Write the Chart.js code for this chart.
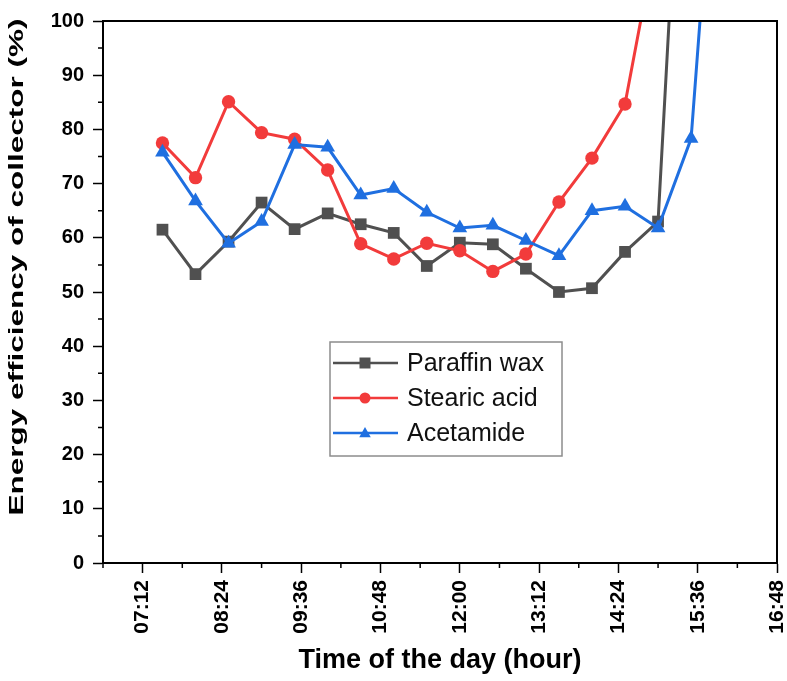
<!DOCTYPE html>
<html>
<head>
<meta charset="utf-8">
<script src="https://cdn.jsdelivr.net/npm/chart.js@4.4.0/dist/chart.umd.min.js"></script>
<style>
    html, body { margin: 0; padding: 0; background: #fff; }
    #wrap { width: 787px; height: 681px; }
</style>
</head>
<body>
<div id="wrap"><canvas id="eff_chart" width="787" height="681"></canvas></div>
<script>
// readings, every 30 min from 07:30
var times = ['07:30','08:00','08:30','09:00','09:30','10:00','10:30','11:00','11:30',
             '12:00','12:30','13:00','13:30','14:00','14:30','15:00','15:30','16:00'];
var paraffin  = [61.5, 53.3, 59.3, 66.5, 61.6, 64.5, 62.5, 60.9, 54.8, 59.1, 58.8, 54.3, 50.0, 50.7, 57.4, 63.0, 174];
var stearic   = [77.5, 71.1, 85.1, 79.4, 78.2, 72.5, 58.9, 56.1, 59.0, 57.6, 53.8, 57.0, 66.6, 74.7, 84.7, 117];
var acetamide = [75.8, 66.8, 59.0, 63.0, 77.2, 76.7, 67.9, 69.1, 64.7, 61.8, 62.3, 59.5, 56.7, 65.0, 65.8, 61.8, 78.3, 159];
var series_names  = ['Paraffin wax', 'Stearic acid', 'Acetamide'];
var series_colors = ['#505050', '#f23b3b', '#1f6fe0'];
var series_marks  = ['rect', 'circle', 'triangle'];
var x_tick_labels = ['07:12','08:24','09:36','10:48','12:00','13:12','14:24','15:36','16:48'];

var FONT = '"Liberation Sans", Arial, sans-serif';

function toMin(s){
    var p = s.split(':');
    return parseInt(p[0], 10) * 60 + parseInt(p[1], 10);
}
function fmt(m){
    var h = Math.floor(m / 60), mm = m % 60;
    return (h < 10 ? '0' : '') + h + ':' + (mm < 10 ? '0' : '') + mm;
}
function points(arr){
    return arr.map(function(v, i){ return {x: toMin(times[i]), y: v}; });
}
function isMajorX(v){ return x_tick_labels.indexOf(fmt(v)) >= 0; }
function isMajorY(v){ return v % 10 === 0; }

// short minor ticks between the labelled ones
var minorTicks = {
    id: 'minorTicks',
    afterDraw: function(chart){
        var ctx = chart.ctx;
        var sx = chart.scales.x, sy = chart.scales.y;
        ctx.save();
        ctx.strokeStyle = '#000';
        ctx.lineWidth = 1.5;
        ctx.beginPath();
        sx.ticks.forEach(function(t){
            if (isMajorX(t.value)) return;
            var p = sx.getPixelForValue(t.value);
            ctx.moveTo(p, sx.top); ctx.lineTo(p, sx.top + 5);
        });
        sy.ticks.forEach(function(t){
            if (isMajorY(t.value)) return;
            var p = sy.getPixelForValue(t.value);
            ctx.moveTo(sy.right, p); ctx.lineTo(sy.right - 5, p);
        });
        ctx.stroke();
        ctx.restore();
    }
};

// closing frame on top and right
var frame = {
    id: 'frame',
    afterDatasetsDraw: function(chart){
        var a = chart.chartArea, ctx = chart.ctx;
        ctx.save();
        ctx.strokeStyle = '#000';
        ctx.lineWidth = 2;
        ctx.beginPath();
        ctx.moveTo(a.left, a.top);
        ctx.lineTo(a.right, a.top);
        ctx.lineTo(a.right, a.bottom);
        ctx.stroke();
        ctx.restore();
    }
};

// y title is drawn long and narrow like the reference
var yTitle = {
    id: 'yTitle',
    afterDraw: function(chart){
        var a = chart.chartArea, ctx = chart.ctx;
        ctx.save();
        ctx.translate(17, (a.top + a.bottom) / 2 - 25);
        ctx.rotate(-Math.PI / 2);
        ctx.scale(1.5, 1);
        ctx.font = 'bold 21px ' + FONT;
        ctx.fillStyle = '#000';
        ctx.textAlign = 'center';
        ctx.textBaseline = 'middle';
        ctx.fillText('Energy efficiency of collector (%)', 0, 0);
        ctx.restore();
    }
};

function drawMark(ctx, style, x, y, r){
    ctx.beginPath();
    if (style === 'rect') {
        ctx.rect(x - r, y - r, 2 * r, 2 * r);
    } else if (style === 'circle') {
        ctx.arc(x, y, r, 0, Math.PI * 2);
    } else {
        ctx.moveTo(x, y - r * 1.1);
        ctx.lineTo(x + r * 1.05, y + r * 0.75);
        ctx.lineTo(x - r * 1.05, y + r * 0.75);
        ctx.closePath();
    }
    ctx.fill();
}

var boxLegend = {
    id: 'boxLegend',
    afterDraw: function(chart){
        var ctx = chart.ctx;
        var bx = 330, by = 342, bw = 232, bh = 114;
        ctx.save();
        ctx.fillStyle = '#fff';
        ctx.fillRect(bx, by, bw, bh);
        ctx.strokeStyle = '#8c8c8c';
        ctx.lineWidth = 1.5;
        ctx.strokeRect(bx, by, bw, bh);
        chart.data.datasets.forEach(function(ds, i){
            var y = by + 21 + i * 35;
            ctx.strokeStyle = ds.borderColor;
            ctx.lineWidth = 2.5;
            ctx.beginPath();
            ctx.moveTo(bx + 3, y);
            ctx.lineTo(bx + 68, y);
            ctx.stroke();
            ctx.fillStyle = ds.borderColor;
            drawMark(ctx, ds.pointStyle, bx + 35, y, 5.5);
            ctx.fillStyle = '#111';
            ctx.font = '25px ' + FONT;
            ctx.textBaseline = 'middle';
            ctx.fillText(ds.label, bx + 77, y + 1);
        });
        ctx.restore();
    }
};

var datasets = [paraffin, stearic, acetamide].map(function(arr, i){
    return {
        label: series_names[i],
        data: points(arr),
        borderColor: series_colors[i],
        backgroundColor: series_colors[i],
        borderWidth: 3,
        pointStyle: series_marks[i],
        pointRadius: [8.3, 6.7, 8.5][i],
        pointBorderWidth: 0,
        tension: 0,
        order: 3 - i,
        clip: {left: 10, top: 0, right: 10, bottom: 10}
    };
});

var ctx = document.getElementById('eff_chart').getContext('2d');
var eff_chart = new Chart(ctx, {
    type: 'line',
    data: { datasets: datasets },
    options: {
        responsive: false,
        animation: false,
        events: [],
        layout: { padding: { top: 19, right: 10, left: 0, bottom: 0 } },
        plugins: { legend: { display: false }, tooltip: { enabled: false } },
        scales: {
            x: {
                type: 'linear',
                min: toMin(x_tick_labels[0]) - 36,
                max: toMin(x_tick_labels[x_tick_labels.length - 1]),
                afterFit: function(s){ s.height = 118; s.paddingLeft = 0; s.paddingRight = 0; },
                border: { display: true, color: '#000', width: 2 },
                grid: {
                    drawOnChartArea: false,
                    tickLength: 10,
                    tickWidth: 1.5,
                    tickColor: function(c){ return isMajorX(c.tick.value) ? '#000' : 'rgba(0,0,0,0)'; }
                },
                ticks: {
                    stepSize: 36,
                    autoSkip: false,
                    minRotation: 90,
                    maxRotation: 90,
                    padding: 7,
                    color: '#000',
                    font: { family: FONT, size: 21, weight: 'bold' },
                    callback: function(v){ return isMajorX(v) ? fmt(v) : ''; }
                },
                title: {
                    display: true,
                    text: 'Time of the day (hour)',
                    color: '#000',
                    font: { family: FONT, size: 27, weight: 'bold' },
                    padding: { top: 4, bottom: 4 }
                }
            },
            y: {
                min: 0,
                max: 100,
                afterFit: function(s){ s.width = 103; },
                border: { display: true, color: '#000', width: 2 },
                grid: {
                    drawOnChartArea: false,
                    tickLength: 10,
                    tickWidth: 1.5,
                    tickColor: function(c){ return isMajorY(c.tick.value) ? '#000' : 'rgba(0,0,0,0)'; }
                },
                ticks: {
                    stepSize: 5,
                    padding: 9,
                    color: '#000',
                    font: { family: FONT, size: 20, weight: 'bold' },
                    callback: function(v){ return isMajorY(v) ? String(v) : ''; }
                }
            }
        }
    },
    plugins: [minorTicks, frame, yTitle, boxLegend]
});
</script>
</body>
</html>
